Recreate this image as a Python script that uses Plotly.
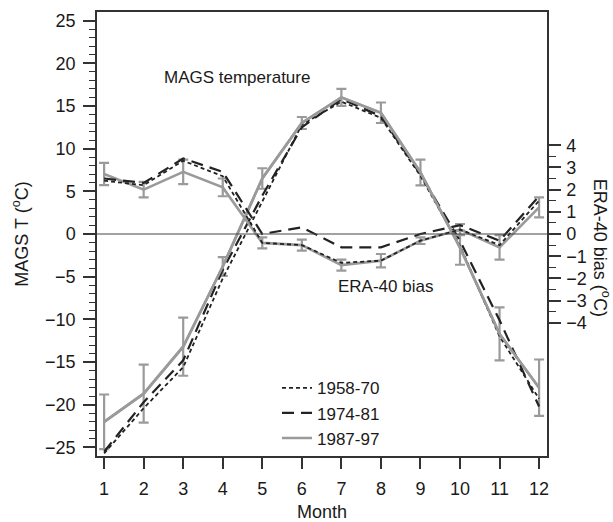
import plotly.graph_objects as go

months = list(range(1, 13))

# MAGS temperature (left axis, deg C)
temp_1958_70 = [-25.7, -20.4, -15.6, -5.2, 3.8, 12.8, 15.5, 13.6, 6.8, -1.4, -12.0, -19.3]
temp_1974_81 = [-25.5, -19.7, -14.8, -4.2, 4.5, 12.5, 15.8, 13.8, 7.0, -0.8, -10.1, -20.2]
temp_1987_97 = [-22.0, -18.7, -13.2, -3.8, 6.5, 13.0, 16.0, 14.2, 7.2, -1.6, -11.7, -18.0]
temp_err_1987_97 = [3.2, 3.4, 3.4, 1.1, 1.2, 0.7, 1.0, 1.2, 1.5, 2.0, 3.1, 3.3]

# ERA-40 bias (right axis, deg C)
bias_1958_70 = [2.4, 2.2, 3.3, 2.6, -0.4, -0.5, -1.3, -1.2, -0.3, 0.2, -0.5, 1.5]
bias_1974_81 = [2.5, 2.3, 3.4, 2.8, 0.0, 0.3, -0.6, -0.6, 0.0, 0.4, -0.3, 1.7]
bias_1987_97 = [2.7, 2.0, 2.8, 2.1, -0.4, -0.5, -1.4, -1.2, -0.3, 0.2, -0.6, 1.2]
bias_err_1987_97 = [0.5, 0.35, 0.55, 0.4, 0.25, 0.25, 0.25, 0.3, 0.15, 0.25, 0.55, 0.45]

left_ticks = [-25, -20, -15, -10, -5, 0, 5, 10, 15, 20, 25]
right_ticks = [-4, -3, -2, -1, 0, 1, 2, 3, 4]

FONT = "Liberation Sans, Arial, Helvetica, sans-serif"
GRAY = "#9a9a9a"
DARK = "#222222"
AX = "#333333"

fig = go.Figure()

def add_series(y, yaxis, name, showlegend, style, err=None):
    if style == "short":
        line = dict(color=DARK, width=1.8, dash="4px,3px")
    elif style == "long":
        line = dict(color=DARK, width=2.2, dash="12px,7px")
    else:
        line = dict(color=GRAY, width=2.6)
    kw = {}
    if err is not None:
        kw["error_y"] = dict(type="data", array=err, visible=True,
                             color=GRAY, thickness=2.2, width=5)
    fig.add_trace(go.Scatter(x=months, y=y, mode="lines", yaxis=yaxis,
                             name=name, showlegend=showlegend, line=line, **kw))

add_series(bias_1987_97, "y2", "1987-97", False, "solid", bias_err_1987_97)
add_series(temp_1987_97, "y", "1987-97", False, "solid", temp_err_1987_97)
add_series(bias_1958_70, "y2", "1958-70", False, "short")
add_series(bias_1974_81, "y2", "1974-81", False, "long")
add_series(temp_1958_70, "y", "1958-70", True, "short")
add_series(temp_1974_81, "y", "1974-81", True, "long")
# legend entry for 1987-97
fig.add_trace(go.Scatter(x=months, y=temp_1987_97, mode="lines", yaxis="y",
                         name="1987-97", showlegend=True,
                         line=dict(color=GRAY, width=2.6)))

fig.add_shape(type="line", xref="paper", x0=0, x1=1, yref="y", y0=0, y1=0,
              line=dict(color="#444444", width=1))

fig.update_layout(
    width=613, height=522,
    margin=dict(l=97, r=66, t=12, b=66, autoexpand=False),
    paper_bgcolor="white", plot_bgcolor="white",
    font=dict(family=FONT, size=18, color="#1a1a1a"),
    showlegend=True,
    legend=dict(x=0.40, y=0.193, xanchor="left", yanchor="top",
                bgcolor="rgba(0,0,0,0)", font=dict(size=17),
                tracegroupgap=0),
    xaxis=dict(range=[0.82, 12.2], tickvals=months, ticks="outside",
               ticklen=11, tickwidth=1.5, tickcolor=AX, showline=True,
               linecolor=AX, linewidth=1.5, mirror=True, showgrid=False,
               zeroline=False, ticklabelstandoff=5, automargin=False,
               title=dict(text="Month", standoff=13, font=dict(size=18))),
    yaxis=dict(range=[-26, 26], tickvals=left_ticks, ticks="outside",
               ticklen=12, tickwidth=1.5, tickcolor=AX, showline=True,
               linecolor=AX, linewidth=1.5, showgrid=False, zeroline=False,
               ticklabelstandoff=4, automargin=False,
               minor=dict(tickvals=[v for v in range(-25, 26) if v % 5 != 0],
                          ticks="outside", ticklen=6, tickwidth=1.2, tickcolor=AX),
               title=dict(text="MAGS T (<sup>o</sup>C)", standoff=12,
                          font=dict(size=18))),
    yaxis2=dict(range=[-10, 10], overlaying="y", side="right",
                tickvals=right_ticks, ticks="outside", ticklen=12,
                tickwidth=1.5, tickcolor=AX, showline=True, linecolor=AX,
                linewidth=1.5, showgrid=False, zeroline=False,
                ticklabelstandoff=2, automargin=False,
                minor=dict(tickvals=[v / 2 for v in range(-7, 8, 2)],
                           ticks="outside", ticklen=7, tickwidth=1.2, tickcolor=AX)),
    annotations=[
        dict(text="MAGS temperature", x=0.31, y=0.852, xref="paper", yref="paper",
             xanchor="center", yanchor="middle", showarrow=False,
             font=dict(size=17)),
        dict(text="ERA-40 bias", x=0.64, y=0.382, xref="paper", yref="paper",
             xanchor="center", yanchor="middle", showarrow=False,
             font=dict(size=17)),
        dict(text="ERA-40 bias (<sup>o</sup>C)", x=1.0, y=0.47, xref="paper",
             yref="paper", xanchor="left", yanchor="middle", xshift=41,
             showarrow=False, textangle=90, font=dict(size=18)),
    ],
)

fig.write_html("out.html")
